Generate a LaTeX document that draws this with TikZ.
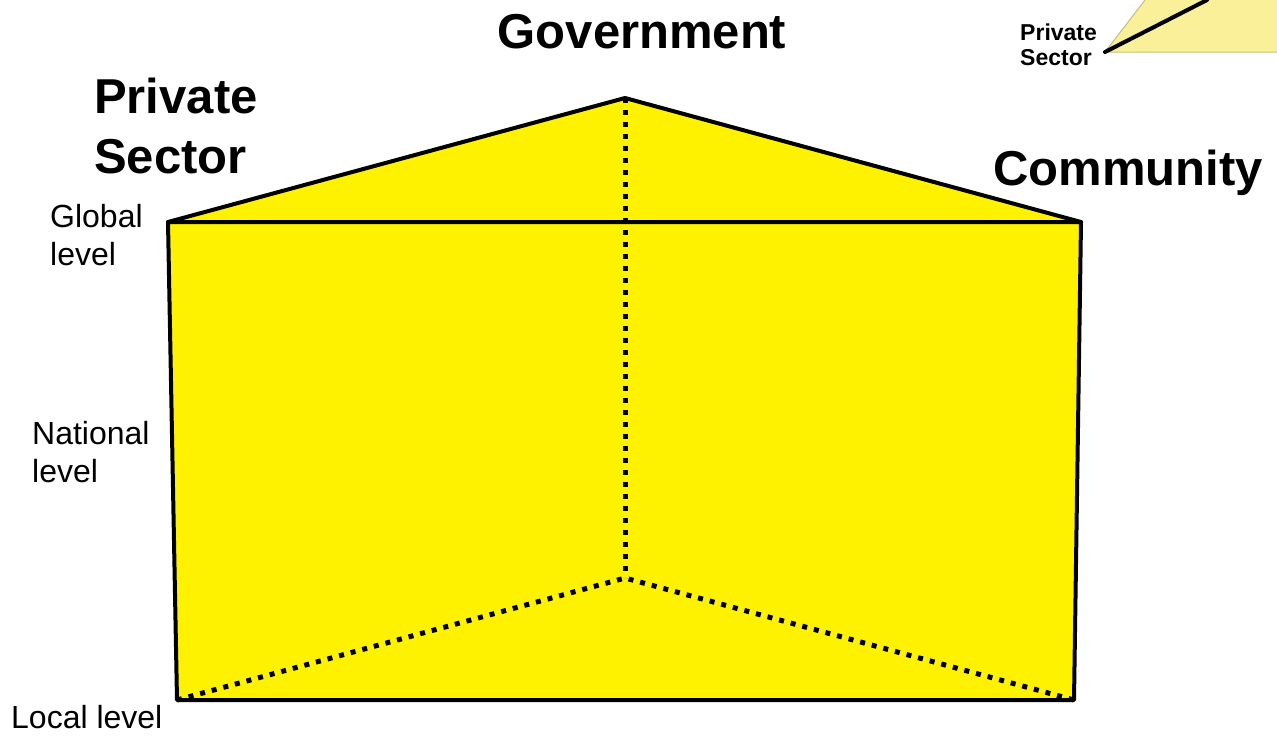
\documentclass[tikz,border=0pt]{standalone}
\usepackage{fontspec}
\setmainfont{Liberation Sans}
\begin{document}
\begin{tikzpicture}[x=1pt,y=-1pt,
  big/.style={font=\fontsize{49}{60}\selectfont\bfseries, inner sep=0pt, align=left},
  lvl/.style={font=\fontsize{32}{38}\selectfont, inner sep=0pt, align=left},
  small/.style={font=\fontsize{23}{25}\selectfont\bfseries, inner sep=0pt, align=left},
  edge/.style={line width=4pt, line join=round, line cap=round},
  hidden/.style={line width=5pt, dash pattern=on 5pt off 7pt}]
\useasboundingbox (0,0) rectangle (1277,736);
% inset
\coordinate (ia) at (1105,52);
\coordinate (ib) at (1145,0);
\coordinate (ic) at (1207,0);
\fill[fill={rgb,255:red,250;green,240;blue,154}] (ia) -- (ib) -- (1277,0) -- (1277,52) -- cycle;
\draw[line width=1pt, draw={rgb,255:red,200;green,190;blue,120}] (ib) -- (ia) -- (1277,52);
\draw[line width=4pt, line cap=round] (ia) -- (ic);
\node[small, anchor=base west] (ips) at (1020,65) {Private\\Sector};
% prism
\coordinate (tl) at (168,222);
\coordinate (tr) at (1081,222);
\coordinate (bl) at (177,700);
\coordinate (br) at (1074,700);
\coordinate (ap) at (625,98);
\coordinate (bp) at (625,578);
\fill[yellow] (tl) -- (ap) -- (tr) -- (br) -- (bl) -- cycle;
\draw[hidden] (ap) -- (bp);
\draw[hidden] (bl) -- (bp) -- (br);
\draw[edge] (tl) -- (ap) -- (tr);
\draw[edge] (tl) -- (tr) -- (br) -- (bl) -- cycle;
% labels
\node[big, anchor=base] (gov) at (642,48) {Government};
\node[big, anchor=base west] (ps) at (94,173) {Private\\Sector};
\node[big, anchor=base west] (com) at (993,185) {Community};
\node[lvl, anchor=base west] (glo) at (50,265) {Global\\level};
\node[lvl, anchor=base west] (nat) at (32,482) {National\\level};
\node[lvl, anchor=base west] (loc) at (11,728) {Local level};
\end{tikzpicture}
\end{document}
